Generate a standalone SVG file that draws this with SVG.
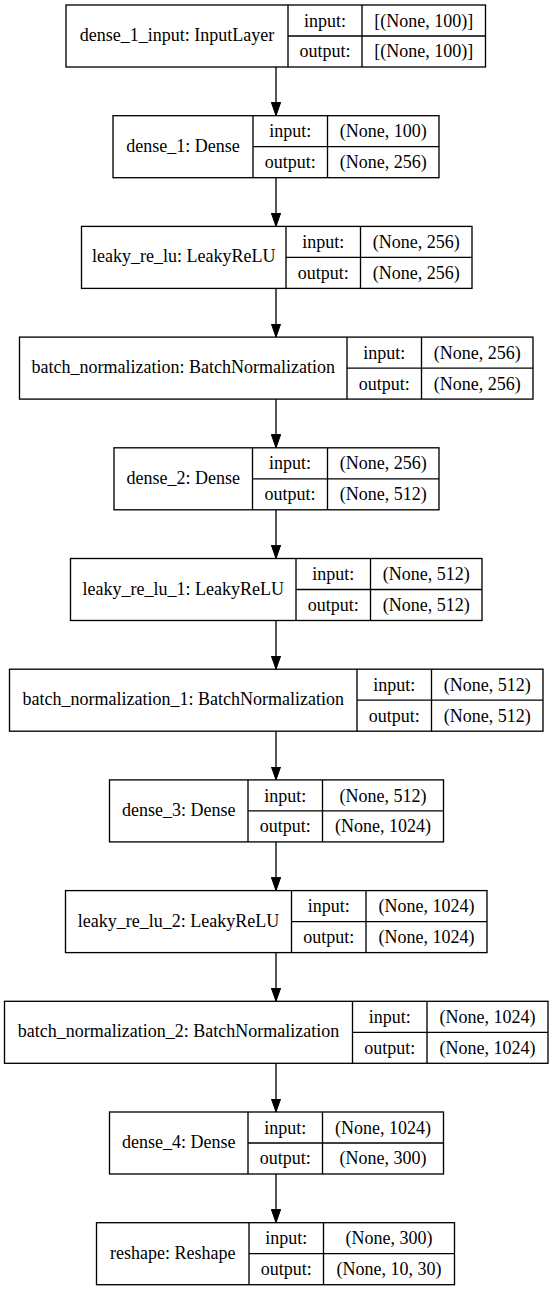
<svg xmlns="http://www.w3.org/2000/svg" width="552" height="1291" viewBox="0 0 552 1291">
<style>
.box{fill:#fff;stroke:#000;stroke-width:1.33}
.div{fill:none;stroke:#000;stroke-width:1.33}
.edge{fill:none;stroke:#000;stroke-width:1.33}
text{font-family:"Liberation Serif","Times New Roman",serif;font-size:18px;fill:#000;text-anchor:middle}
</style>
<defs>
<marker id="arr" viewBox="0 0 13.33 9.33" refX="13.33" refY="4.665" markerWidth="13.33" markerHeight="9.33" markerUnits="userSpaceOnUse" orient="auto">
<path d="M0,0 L13.33,4.665 L0,9.33 Z" fill="#000" stroke="#000" stroke-width="1"/>
</marker>
</defs>
<rect width="552" height="1291" fill="#fff"/>
<g id="connectors">
<path class="edge" marker-end="url(#arr)" d="M276,67 V115.7"/>
<path class="edge" marker-end="url(#arr)" d="M276,177.7 V226.4"/>
<path class="edge" marker-end="url(#arr)" d="M276,288.4 V337.1"/>
<path class="edge" marker-end="url(#arr)" d="M276,399.1 V447.8"/>
<path class="edge" marker-end="url(#arr)" d="M276,509.8 V558.5"/>
<path class="edge" marker-end="url(#arr)" d="M276,620.5 V669.2"/>
<path class="edge" marker-end="url(#arr)" d="M276,731.2 V779.9"/>
<path class="edge" marker-end="url(#arr)" d="M276,841.9 V890.6"/>
<path class="edge" marker-end="url(#arr)" d="M276,952.6 V1001.3"/>
<path class="edge" marker-end="url(#arr)" d="M276,1063.3 V1112"/>
<path class="edge" marker-end="url(#arr)" d="M276,1174 V1222.7"/>
</g>
<g id="dense_1_input">
<rect class="box" x="66" y="5" width="419.5" height="62"/>
<path class="div" d="M288,5 V67 M362,5 V67 M288,36 H485.5"/>
<text x="177" y="41">dense_1_input: InputLayer</text>
<text x="325" y="26.6">input:</text>
<text x="325" y="57.4">output:</text>
<text x="423.75" y="26.6">[(None, 100)]</text>
<text x="423.75" y="57.4">[(None, 100)]</text>
</g>
<g id="dense_1">
<rect class="box" x="113" y="115.7" width="326" height="62"/>
<path class="div" d="M253,115.7 V177.7 M327.5,115.7 V177.7 M253,146.7 H439"/>
<text x="183" y="151.7">dense_1: Dense</text>
<text x="290.25" y="137.3">input:</text>
<text x="290.25" y="168.1">output:</text>
<text x="383.25" y="137.3">(None, 100)</text>
<text x="383.25" y="168.1">(None, 256)</text>
</g>
<g id="leaky_re_lu">
<rect class="box" x="81.5" y="226.4" width="390.5" height="62"/>
<path class="div" d="M286,226.4 V288.4 M360.5,226.4 V288.4 M286,257.4 H472"/>
<text x="183.75" y="262.4">leaky_re_lu: LeakyReLU</text>
<text x="323.25" y="248">input:</text>
<text x="323.25" y="278.8">output:</text>
<text x="416.25" y="248">(None, 256)</text>
<text x="416.25" y="278.8">(None, 256)</text>
</g>
<g id="batch_normalization">
<rect class="box" x="19.5" y="337.1" width="513.5" height="62"/>
<path class="div" d="M347,337.1 V399.1 M421.5,337.1 V399.1 M347,368.1 H533"/>
<text x="183.25" y="373.1">batch_normalization: BatchNormalization</text>
<text x="384.25" y="358.7">input:</text>
<text x="384.25" y="389.5">output:</text>
<text x="477.25" y="358.7">(None, 256)</text>
<text x="477.25" y="389.5">(None, 256)</text>
</g>
<g id="dense_2">
<rect class="box" x="114" y="447.8" width="325" height="62"/>
<path class="div" d="M252.5,447.8 V509.8 M327.5,447.8 V509.8 M252.5,478.8 H439"/>
<text x="183.25" y="483.8">dense_2: Dense</text>
<text x="290" y="469.4">input:</text>
<text x="290" y="500.2">output:</text>
<text x="383.25" y="469.4">(None, 256)</text>
<text x="383.25" y="500.2">(None, 512)</text>
</g>
<g id="leaky_re_lu_1">
<rect class="box" x="70.5" y="558.5" width="411.5" height="62"/>
<path class="div" d="M296,558.5 V620.5 M370.5,558.5 V620.5 M296,589.5 H482"/>
<text x="183.25" y="594.5">leaky_re_lu_1: LeakyReLU</text>
<text x="333.25" y="580.1">input:</text>
<text x="333.25" y="610.9">output:</text>
<text x="426.25" y="580.1">(None, 512)</text>
<text x="426.25" y="610.9">(None, 512)</text>
</g>
<g id="batch_normalization_1">
<rect class="box" x="9.5" y="669.2" width="533.5" height="62"/>
<path class="div" d="M357,669.2 V731.2 M431.5,669.2 V731.2 M357,700.2 H543"/>
<text x="183.25" y="705.2">batch_normalization_1: BatchNormalization</text>
<text x="394.25" y="690.8">input:</text>
<text x="394.25" y="721.6">output:</text>
<text x="487.25" y="690.8">(None, 512)</text>
<text x="487.25" y="721.6">(None, 512)</text>
</g>
<g id="dense_3">
<rect class="box" x="109.5" y="779.9" width="334" height="62"/>
<path class="div" d="M248,779.9 V841.9 M322.5,779.9 V841.9 M248,810.9 H443.5"/>
<text x="178.75" y="815.9">dense_3: Dense</text>
<text x="285.25" y="801.5">input:</text>
<text x="285.25" y="832.3">output:</text>
<text x="383" y="801.5">(None, 512)</text>
<text x="383" y="832.3">(None, 1024)</text>
</g>
<g id="leaky_re_lu_2">
<rect class="box" x="65.5" y="890.6" width="421.5" height="62"/>
<path class="div" d="M291.5,890.6 V952.6 M366,890.6 V952.6 M291.5,921.6 H487"/>
<text x="178.5" y="926.6">leaky_re_lu_2: LeakyReLU</text>
<text x="328.75" y="912.2">input:</text>
<text x="328.75" y="943">output:</text>
<text x="426.5" y="912.2">(None, 1024)</text>
<text x="426.5" y="943">(None, 1024)</text>
</g>
<g id="batch_normalization_2">
<rect class="box" x="4.5" y="1001.3" width="543.5" height="62"/>
<path class="div" d="M352.5,1001.3 V1063.3 M427,1001.3 V1063.3 M352.5,1032.3 H548"/>
<text x="178.5" y="1037.3">batch_normalization_2: BatchNormalization</text>
<text x="389.75" y="1022.9">input:</text>
<text x="389.75" y="1053.7">output:</text>
<text x="487.5" y="1022.9">(None, 1024)</text>
<text x="487.5" y="1053.7">(None, 1024)</text>
</g>
<g id="dense_4">
<rect class="box" x="109.5" y="1112" width="334" height="62"/>
<path class="div" d="M248,1112 V1174 M322.5,1112 V1174 M248,1143 H443.5"/>
<text x="178.75" y="1148">dense_4: Dense</text>
<text x="285.25" y="1133.6">input:</text>
<text x="285.25" y="1164.4">output:</text>
<text x="383" y="1133.6">(None, 1024)</text>
<text x="383" y="1164.4">(None, 300)</text>
</g>
<g id="reshape">
<rect class="box" x="96.5" y="1222.7" width="358" height="62"/>
<path class="div" d="M249,1222.7 V1284.7 M323.5,1222.7 V1284.7 M249,1253.7 H454.5"/>
<text x="172.75" y="1258.7">reshape: Reshape</text>
<text x="286.25" y="1244.3">input:</text>
<text x="286.25" y="1275.1">output:</text>
<text x="389" y="1244.3">(None, 300)</text>
<text x="389" y="1275.1">(None, 10, 30)</text>
</g>
</svg>
